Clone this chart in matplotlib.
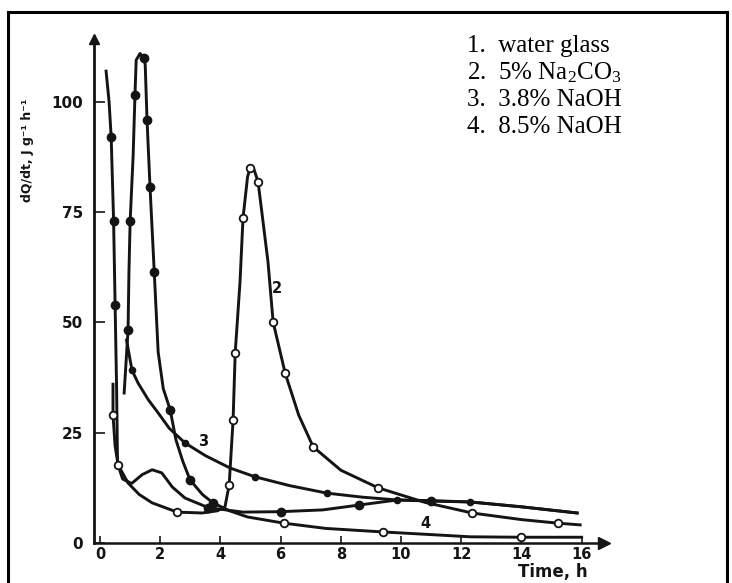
import matplotlib
matplotlib.use("Agg")
import matplotlib.pyplot as plt
from matplotlib.lines import Line2D

plt.rcParams["mathtext.fontset"] = "custom"
plt.rcParams["mathtext.rm"] = "Liberation Serif"
plt.rcParams["mathtext.it"] = "Liberation Serif:italic"

# ---------------- data (time in h, heat flow in J/g h) ----------------
c1_t = [0.20, 0.30, 0.37, 0.45, 0.50, 0.55, 0.58, 0.75, 1.05, 1.40, 1.73, 2.05, 2.40,
        2.82, 3.60, 4.75, 6.00, 7.40, 8.60, 9.87, 11.0, 12.3, 14.0, 15.85]
c1_q = [107, 100, 92, 73, 54, 35, 18, 14.5, 13.5, 15.5, 16.6, 15.9, 12.7,
        10.2, 8.0, 7.0, 7.1, 7.5, 8.6, 9.75, 9.6, 9.3, 8.2, 6.8]

c2_t = [0.43, 0.43, 0.50, 0.60, 0.93, 1.30, 1.73, 2.56, 3.39, 3.90, 4.15, 4.29, 4.42,
        4.49, 4.65, 4.75, 4.90, 4.98, 5.10, 5.25, 5.58, 5.75, 6.15, 6.60, 7.08,
        8.00, 9.24, 10.8, 12.36, 14.0, 15.2, 15.95]
c2_q = [36, 29, 22, 17.7, 13.6, 11.0, 9.1, 7.0, 6.8, 7.3, 8.2, 13.2, 27.9,
        43.1, 59.2, 73.7, 83, 85, 85, 81.9, 63.7, 50.1, 38.5, 29, 21.8,
        16.5, 12.5, 9.2, 6.8, 5.3, 4.5, 4.1]

c3_t = [0.88, 1.06, 1.26, 1.60, 1.93, 2.30, 2.82, 3.50, 4.32, 5.15, 6.30,
        7.54, 8.70, 9.87, 11.0, 12.3, 14.0, 15.85]
c3_q = [46.0, 39.2, 36.3, 32.5, 29.5, 26.0, 22.7, 19.8, 17.0, 15.0, 13.0,
        11.3, 10.4, 9.75, 9.5, 9.3, 8.2, 6.8]

c4_t = [0.80, 0.93, 0.96, 1.00, 1.10, 1.16, 1.20, 1.33, 1.45, 1.50, 1.56, 1.66, 1.80,
        1.93, 2.10, 2.33, 2.52, 2.75, 2.99, 3.40, 3.75, 4.30, 4.90, 6.10, 7.50,
        9.40, 11.0, 12.3, 14.0, 16.0]
c4_q = [34, 48.3, 61.5, 73, 88, 101.6, 109.5, 111, 110, 108.5, 96, 80.7, 61.5,
        43.3, 35, 30.2, 23.4, 18.5, 14.3, 11.0, 9.1, 7.3, 5.9, 4.5, 3.3,
        2.5, 1.9, 1.4, 1.3, 1.3]

y_ticks = [0, 25, 50, 75, 100]
x_ticks = [0, 2, 4, 6, 8, 10, 12, 14, 16]
x_tick_labels = ["0", "2", "4", "6", "8", "10", "12", "14", "16"]

legend_lines = ["1.  water glass", r"2.  5% Na$_{2}$CO$_{3}$", "3.  3.8% NaOH", "4.  8.5% NaOH"]
curve_labels = [("2", 5.88, 57.8), ("3", 3.42, 22.9), ("4", 10.8, 4.5)]

# ---------------- figure ----------------
ink = "#141414"
fig = plt.figure(figsize=(7.32, 5.83), dpi=100)
fig.patch.set_facecolor("white")
ax = fig.add_axes([0.1223, 0.0573, 0.7134, 0.8888])
ax.set_xlim(-0.35, 17.0)
ax.set_ylim(-1.5, 116)
ax.set_facecolor("none")

lw = 2.1
ax.plot(c1_t, c1_q, color=ink, lw=lw, marker="o", ms=6, mfc=ink, mec=ink,
        markevery=[2, 3, 4, 14, 16, 18, 20], solid_joinstyle="round")
ax.plot(c2_t, c2_q, color=ink, lw=lw, marker="o", ms=5.5, mfc="white", mec=ink, mew=1.3,
        markevery=[1, 3, 7, 11, 12, 13, 15, 17, 19, 21, 22, 24, 26, 28, 30])
ax.plot(c3_t, c3_q, color=ink, lw=lw, marker="o", ms=4.5, mfc=ink, mec=ink,
        markevery=[1, 6, 9, 11, 13, 15])
ax.plot(c4_t, c4_q, color=ink, lw=lw, marker="o", ms=6, mfc=ink, mec=ink,
        markevery=[1, 3, 5, 8, 10, 11, 12, 15, 18, 20])
ax.plot(c4_t[22:], c4_q[22:], ls="none", marker="o", ms=5.5, mfc="white", mec=ink, mew=1.3,
        markevery=[1, 3, 6])

# axes with arrows
for s in ["top", "right"]:
    ax.spines[s].set_visible(False)
ax.spines["left"].set_position(("data", -0.2))
ax.spines["bottom"].set_position(("data", 0))
ax.spines["left"].set_bounds(0, 113)
ax.spines["bottom"].set_bounds(-0.2, 16.7)
ax.spines["left"].set_linewidth(2.0)
ax.spines["bottom"].set_linewidth(1.8)
ax.spines["left"].set_color(ink)
ax.spines["bottom"].set_color(ink)
ax.plot([-0.2], [114.2], marker="^", ms=7, color=ink, clip_on=False)
ax.plot([16.75], [0], marker=">", ms=8, color=ink, clip_on=False)

ax.set_yticks(y_ticks)
ax.set_yticklabels([str(v) for v in y_ticks])
ax.set_xticks(x_ticks)
ax.set_xticklabels(x_tick_labels)
ax.tick_params(axis="y", direction="in", length=8, width=1.2, pad=8, colors=ink,
               labelsize=11)
ax.tick_params(axis="x", direction="in", length=5, width=1.2, pad=3, colors=ink,
               labelsize=10.5)
for lab in ax.get_xticklabels() + ax.get_yticklabels():
    lab.set_fontweight("bold")

for txt, xx, yy in curve_labels:
    ax.text(xx, yy, txt, fontsize=10.5, fontweight="bold", color=ink,
            ha="center", va="center")

# axis titles
fig.text(28 / 732, 1 - 150 / 583, "dQ/dt, J g\u207b\u00b9 h\u207b\u00b9", rotation=90,
         fontsize=9, fontweight="bold", color=ink, ha="center", va="center")
fig.text(553 / 732, 1 - 572 / 583, "Time, h", fontsize=12, fontweight="bold",
         color=ink, ha="center", va="center")

# legend text block
for i, line in enumerate(legend_lines):
    fig.text(467 / 732, 1 - (46 + 27 * i) / 583, line, fontsize=18,
             family="Liberation Serif", color="black", ha="left", va="center")

# outer frame (left, top, right)
fig.add_artist(Line2D([8 / 732, 8 / 732], [0, 1 - 12 / 583], transform=fig.transFigure,
                      color="black", lw=2.2))
fig.add_artist(Line2D([8 / 732, 727 / 732], [1 - 12 / 583, 1 - 12 / 583],
                      transform=fig.transFigure, color="black", lw=2.2))
fig.add_artist(Line2D([727 / 732, 727 / 732], [0, 1 - 12 / 583], transform=fig.transFigure,
                      color="black", lw=2.2))

fig.savefig("out.png", dpi=100)
